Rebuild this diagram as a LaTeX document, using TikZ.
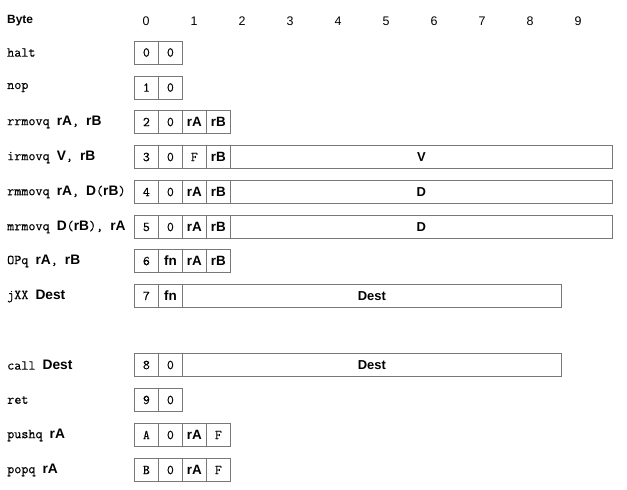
\documentclass[tikz,border=0pt]{standalone}
\usepackage{fontspec}
\setsansfont{Liberation Sans}
\setmonofont{Latin Modern Mono}
\newfontfamily\heavytt{Latin Modern Mono}[FakeBold=0.3]
\newcommand{\bsf}[1]{{\sffamily\bfseries #1}}
\definecolor{boxline}{RGB}{120,120,120}
\begin{document}
\begin{tikzpicture}[x=1bp,y=-1bp,
  every node/.style={inner sep=0pt},
  txt/.style={font=\fontsize{13.8}{16}\selectfont\heavytt, anchor=west},
  hdr/.style={font=\fontsize{12.5}{15}\selectfont\sffamily},
  cell/.style={draw=boxline, line width=0.8bp, rectangle, minimum width=24bp, minimum height=23bp, font=\fontsize{13.5}{15}\selectfont\heavytt, anchor=west},
  longcell/.style={draw=boxline, line width=0.8bp, rectangle, minimum height=23bp, font=\fontsize{13}{15}\selectfont\sffamily\bfseries, anchor=west}]
\useasboundingbox (0,0) rectangle (627,490);
% header
\node[anchor=west, font=\fontsize{12}{14}\selectfont\sffamily\bfseries] (byte) at (7,21) {Byte};
\foreach \k in {0,...,9} {
  \node[hdr] (b\k) at ({146+48*\k},21) {\k};
}
% halt
\node[txt] (l0) at (7,52.5) {halt};
\node[cell] (c0a) at (134,52.5) {0};
\node[cell] (c0b) at (158,52.5) {0};
% nop
\node[txt] (l1) at (7,87.5) {nop};
\node[cell] (c1a) at (134,87.5) {1};
\node[cell] (c1b) at (158,87.5) {0};
% rrmovq
\node[txt] (l2) at (7,122) {rrmovq \bsf{rA}, \bsf{rB}};
\node[cell] (c2a) at (134,122) {2};
\node[cell] (c2b) at (158,122) {0};
\node[cell] (c2c) at (182,122) {\bsf{rA}};
\node[cell] (c2d) at (206,122) {\bsf{rB}};
% irmovq
\node[txt] (l3) at (7,157) {irmovq \bsf{V}, \bsf{rB}};
\node[cell] (c3a) at (134,157) {3};
\node[cell] (c3b) at (158,157) {0};
\node[cell] (c3c) at (182,157) {F};
\node[cell] (c3d) at (206,157) {\bsf{rB}};
\node[longcell, minimum width=382bp] (c3e) at (230,157) {V};
% rmmovq
\node[txt] (l4) at (7,192) {rmmovq \bsf{rA}, \bsf{D}(\bsf{rB})};
\node[cell] (c4a) at (134,192) {4};
\node[cell] (c4b) at (158,192) {0};
\node[cell] (c4c) at (182,192) {\bsf{rA}};
\node[cell] (c4d) at (206,192) {\bsf{rB}};
\node[longcell, minimum width=382bp] (c4e) at (230,192) {D};
% mrmovq
\node[txt] (l5) at (7,227) {mrmovq \bsf{D}(\bsf{rB}), \bsf{rA}};
\node[cell] (c5a) at (134,227) {5};
\node[cell] (c5b) at (158,227) {0};
\node[cell] (c5c) at (182,227) {\bsf{rA}};
\node[cell] (c5d) at (206,227) {\bsf{rB}};
\node[longcell, minimum width=382bp] (c5e) at (230,227) {D};
% OPq
\node[txt] (l6) at (7,261) {OPq \bsf{rA}, \bsf{rB}};
\node[cell] (c6a) at (134,261) {6};
\node[cell] (c6b) at (158,261) {\bsf{fn}};
\node[cell] (c6c) at (182,261) {\bsf{rA}};
\node[cell] (c6d) at (206,261) {\bsf{rB}};
% jXX
\node[txt] (l7) at (7,296) {jXX \bsf{Dest}};
\node[cell] (c7a) at (134,296) {7};
\node[cell] (c7b) at (158,296) {\bsf{fn}};
\node[longcell, minimum width=379bp] (c7c) at (182,296) {Dest};
% call
\node[txt] (l8) at (7,365) {call \bsf{Dest}};
\node[cell] (c8a) at (134,365) {8};
\node[cell] (c8b) at (158,365) {0};
\node[longcell, minimum width=379bp] (c8c) at (182,365) {Dest};
% ret
\node[txt] (l9) at (7,400) {ret};
\node[cell] (c9a) at (134,400) {9};
\node[cell] (c9b) at (158,400) {0};
% pushq
\node[txt] (l10) at (7,435) {pushq \bsf{rA}};
\node[cell] (c10a) at (134,435) {A};
\node[cell] (c10b) at (158,435) {0};
\node[cell] (c10c) at (182,435) {\bsf{rA}};
\node[cell] (c10d) at (206,435) {F};
% popq
\node[txt] (l11) at (7,470) {popq \bsf{rA}};
\node[cell] (c11a) at (134,470) {B};
\node[cell] (c11b) at (158,470) {0};
\node[cell] (c11c) at (182,470) {\bsf{rA}};
\node[cell] (c11d) at (206,470) {F};
\end{tikzpicture}
\end{document}
